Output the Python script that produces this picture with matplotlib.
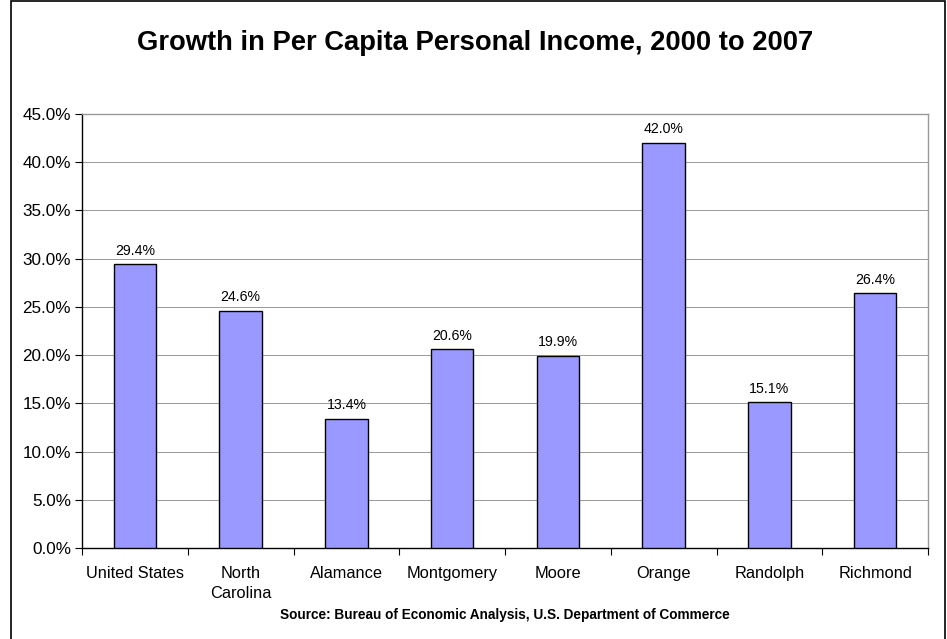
import matplotlib
matplotlib.use("Agg")
import matplotlib.pyplot as plt
from matplotlib.patches import Rectangle
from matplotlib.ticker import FuncFormatter
import numpy as np

plt.rcParams['font.family'] = ['Liberation Sans', 'DejaVu Sans']

categories = ["United States", "North\nCarolina", "Alamance", "Montgomery",
              "Moore", "Orange", "Randolph", "Richmond"]
growth_pct = [29.4, 24.6, 13.4, 20.6, 19.9, 42.0, 15.1, 26.4]
y_ticks = [0, 5, 10, 15, 20, 25, 30, 35, 40, 45]

W, H = 947, 639
fig = plt.figure(figsize=(W / 100, H / 100), dpi=100)
fig.patch.set_facecolor("white")

# outer chart border
fig.patches.append(Rectangle((10.5 / W, -0.01), (945 - 10.5) / W, 1.01 - 1.5 / H,
                             transform=fig.transFigure, fill=False,
                             edgecolor="black", linewidth=1.2, zorder=10))

ax = fig.add_axes([82 / W, 1 - 548 / H, (928 - 82) / W, (548 - 114) / H])
x = np.arange(len(categories))
ax.bar(x, growth_pct, width=0.4, color="#9999FF", edgecolor="black",
       linewidth=1.0, zorder=3)

for xi, v in zip(x, growth_pct):
    ax.text(xi, v + 0.7, f"{v:.1f}%", ha="center", va="bottom", fontsize=10.2)

ax.set_xlim(-0.5, len(categories) - 0.5)
ax.set_ylim(0, 45)
ax.set_yticks(y_ticks)
ax.yaxis.set_major_formatter(FuncFormatter(lambda v, p: f"{v:.1f}%"))
ax.tick_params(axis="y", direction="out", length=5, width=0.8, labelsize=12.3, pad=3)
ax.grid(axis="y", color="#999999", linewidth=0.7, zorder=0)

ax.set_xticks(x)
ax.set_xticklabels(categories, fontsize=11.8, linespacing=1.4)
ax.set_xticks(np.arange(len(categories) + 1) - 0.5, minor=True)
ax.tick_params(axis="x", which="major", length=0, pad=13)
ax.tick_params(axis="x", which="minor", direction="out", length=5, width=0.8)

for side in ("top", "right"):
    ax.spines[side].set_color("#999999")
    ax.spines[side].set_linewidth(1.0)
for side in ("left", "bottom"):
    ax.spines[side].set_color("black")
    ax.spines[side].set_linewidth(1.0)

fig.text(475 / W, 1 - 43 / H, "Growth in Per Capita Personal Income, 2000 to 2007",
         ha="center", va="center", fontsize=19.7, fontweight="bold")
fig.text(505 / W, 1 - 615 / H,
         "Source: Bureau of Economic Analysis, U.S. Department of Commerce",
         ha="center", va="center", fontsize=9.8, fontweight="bold")

fig.savefig("out.png", dpi=100)
